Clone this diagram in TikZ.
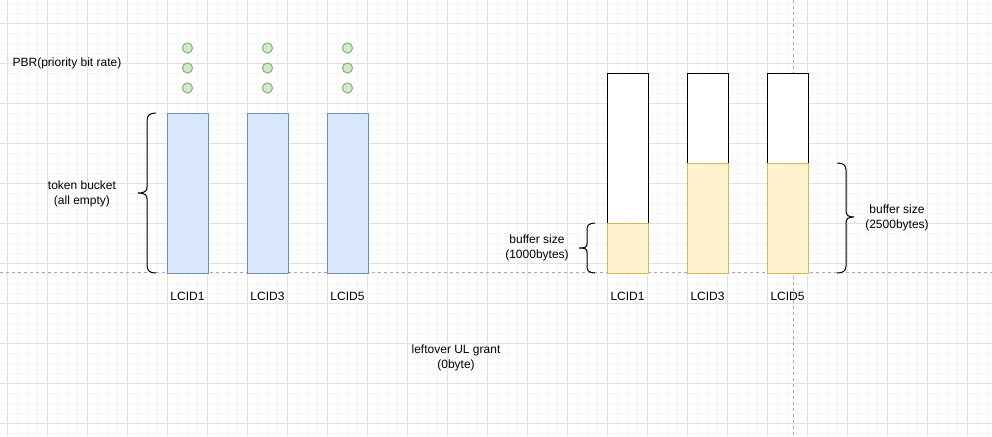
\documentclass[tikz,border=0pt]{standalone}
\usepackage{fontspec}
\setmainfont{Liberation Sans}
\definecolor{gridmaj}{HTML}{E2E2E2}
\definecolor{gridmin}{HTML}{F5F5F5}
\definecolor{bluefill}{HTML}{DAE8FC}
\definecolor{bluedraw}{HTML}{6C8EBF}
\definecolor{greenfill}{HTML}{D5E8D4}
\definecolor{greendraw}{HTML}{82B366}
\definecolor{yelfill}{HTML}{FFF2CC}
\definecolor{yeldraw}{HTML}{D6B656}
\definecolor{dashcol}{HTML}{AAAAAA}
\begin{document}
\begin{tikzpicture}[x=1pt,y=-1pt,
  lbl/.style={font=\fontsize{12}{14.5}\selectfont, align=center, inner sep=0pt, text=black},
  bluebar/.style={draw=bluedraw, fill=bluefill, line width=1pt, minimum width=41pt, minimum height=160pt, inner sep=0pt},
  dot/.style={circle, draw=greendraw, fill=greenfill, line width=1pt, minimum size=10pt, inner sep=0pt},
  emptypart/.style={draw=black, fill=white, line width=1pt, minimum width=41pt, inner sep=0pt},
  fullpart/.style={draw=yeldraw, fill=yelfill, line width=1pt, minimum width=41pt, inner sep=0pt},
  bracestyle/.style={draw=black, line width=1pt},
  guide/.style={draw=dashcol, line width=0.8pt, dash pattern=on 3pt off 3pt}]
\useasboundingbox (0,0) rectangle (992,436);
\fill[white] (0,0) rectangle (992,436);
% grid
\foreach \x in {7,17,...,987} \draw[gridmin, line width=0.6pt] (\x,0) -- (\x,436);
\foreach \y in {3,13,...,433} \draw[gridmin, line width=0.6pt] (0,\y) -- (992,\y);
\foreach \x in {7,47,...,987} \draw[gridmaj, line width=0.8pt] (\x,0) -- (\x,436);
\foreach \y in {23,63,...,423} \draw[gridmaj, line width=0.8pt] (0,\y) -- (992,\y);
% guides
\draw[guide] (0,272) -- (992,272);
\draw[guide] (793,0) -- (793,436);
% left bars
\foreach \i/\x in {1/187.5,3/267.5,5/347.5} {
  \node[bluebar] (tb\i) at (\x,193) {};
  \node[dot] (pa\i) at (\x,48) {};
  \node[dot] (pb\i) at (\x,68) {};
  \node[dot] (pc\i) at (\x,88) {};
  \node[lbl] (ll\i) at (\x,296) {LCID\i};
}
\node[lbl] (pbr) at (67,63) {PBR(priority bit rate)};
\node[lbl] (tok) at (82,194) {token bucket\\(all empty)};
% right bars
\node[emptypart, minimum height=150pt] (e1) at (627.5,148) {};
\node[fullpart, minimum height=50pt] (f1) at (627.5,248) {};
\node[emptypart, minimum height=90pt] (e3) at (707.5,118) {};
\node[fullpart, minimum height=110pt] (f3) at (707.5,218) {};
\node[emptypart, minimum height=90pt] (e5) at (787.5,118) {};
\node[fullpart, minimum height=110pt] (f5) at (787.5,218) {};
\foreach \i/\x in {1/627.5,3/707.5,5/787.5} \node[lbl] (rl\i) at (\x,296) {LCID\i};
\node[lbl] (bs1) at (537,248) {buffer size\\(1000bytes)};
\node[lbl] (bs2) at (897,218) {buffer size\\(2500bytes)};
\node[lbl] (left) at (456,358) {leftover UL grant\\(0byte)};
% braces
\draw[bracestyle] (156,113) .. controls (150,113) and (147,115) .. (147,121) -- (147,187)
  .. controls (147,191) and (145,193) .. (138,193) .. controls (145,193) and (147,195) .. (147,199)
  -- (147,265) .. controls (147,271) and (150,273) .. (156,273);
\draw[bracestyle] (595,223) .. controls (590,223) and (587,225) .. (587,229) -- (587,244)
  .. controls (587,247) and (585,248) .. (579,248) .. controls (585,248) and (587,249) .. (587,252)
  -- (587,267) .. controls (587,271) and (590,273) .. (595,273);
\draw[bracestyle] (837,163) .. controls (843,163) and (846,165) .. (846,170) -- (846,211)
  .. controls (846,215) and (848,217) .. (854,217) .. controls (848,217) and (846,219) .. (846,223)
  -- (846,266) .. controls (846,271) and (843,273) .. (837,273);
\end{tikzpicture}
\end{document}
